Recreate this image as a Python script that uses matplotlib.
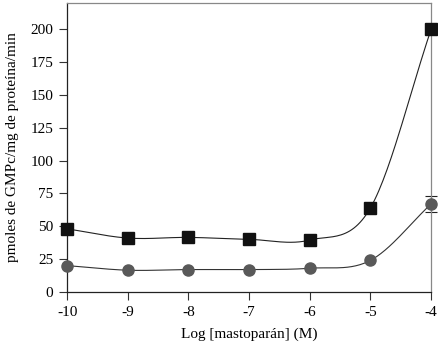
import numpy as np
import matplotlib
matplotlib.use('Agg')
import matplotlib.pyplot as plt

log_conc = [-10, -9, -8, -7, -6, -5, -4]
squares = [48, 41, 41.5, 40, 39.5, 64, 200]
circles = [20, 16.5, 17, 17, 18, 24, 67]
circles_err = [0, 0, 0, 0, 0, 0, 6]
yticks = [0, 25, 50, 75, 100, 125, 150, 175, 200]


def smooth(x, y, n=30):
    # catmull-rom curve through the points, only for drawing the line
    x = np.asarray(x, float)
    y = np.asarray(y, float)
    px = np.concatenate([[2 * x[0] - x[1]], x, [2 * x[-1] - x[-2]]])
    py = np.concatenate([[2 * y[0] - y[1]], y, [2 * y[-1] - y[-2]]])
    xs, ys = [], []
    t = np.linspace(0, 1, n)
    for i in range(1, len(px) - 2):
        for p, out in ((px, xs), (py, ys)):
            p0, p1, p2, p3 = p[i - 1], p[i], p[i + 1], p[i + 2]
            out.extend(0.5 * (2 * p1 + (-p0 + p2) * t
                              + (2 * p0 - 5 * p1 + 4 * p2 - p3) * t ** 2
                              + (-p0 + 3 * p1 - 3 * p2 + p3) * t ** 3))
    return xs, ys


plt.rcParams['font.family'] = ['Liberation Serif', 'DejaVu Serif']
fig = plt.figure(figsize=(4.39, 3.45), dpi=100)
ax = fig.add_axes([0.153, 0.154, 0.829, 0.837])

sx, sy = smooth(log_conc, squares)
cx, cy = smooth(log_conc, circles)
ax.plot(sx, sy, color='#222222', lw=0.8, clip_on=False)
ax.plot(cx, cy, color='#333333', lw=0.8, clip_on=False)
ax.errorbar(log_conc[-1:], circles[-1:], yerr=circles_err[-1:], fmt='none',
            ecolor='#222222', elinewidth=0.8, capsize=4, capthick=0.8, clip_on=False)
ax.plot(log_conc, squares, 's', color='#111111', ms=8.5, clip_on=False, zorder=3)
ax.plot(log_conc, circles, 'o', color='#595959', ms=8, clip_on=False, zorder=3)

ax.set_xlim(-10, -4)
ax.set_ylim(0, 220)
ax.set_yticks(yticks)
ax.set_xticks(log_conc)
ax.set_xticklabels([str(v) for v in log_conc])
ax.tick_params(labelsize=11, length=6, width=0.8, color='#333333', pad=4)
for s in ['left', 'bottom']:
    ax.spines[s].set_color('#222222')
    ax.spines[s].set_linewidth(0.9)
for s in ['top', 'right']:
    ax.spines[s].set_color('#888888')
    ax.spines[s].set_linewidth(0.9)

ax.set_xlabel('Log [mastoparán] (M)', fontsize=11, labelpad=6)
ax.set_ylabel('pmoles de GMPc/mg de proteína/min', fontsize=11, labelpad=8)

fig.savefig('out.png', dpi=100)
